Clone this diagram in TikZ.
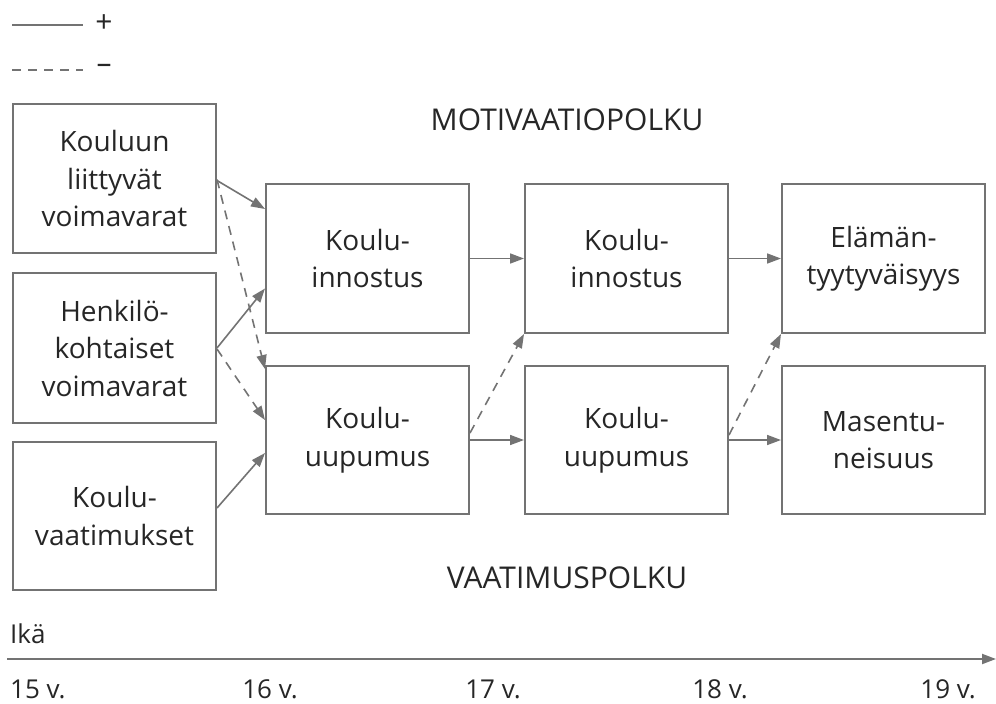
\documentclass[tikz,border=0pt]{standalone}
\usepackage{fontspec}
\setmainfont{Open Sans}
\usetikzlibrary{arrows.meta,calc}
\definecolor{linegray}{gray}{0.45}
\definecolor{textgray}{gray}{0.15}
\begin{document}
\begin{tikzpicture}[x=1pt,y=-1pt,
  box/.style={draw=linegray,line width=2pt,minimum width=203pt,inner sep=0pt,align=center,
    text=textgray,font=\fontsize{28}{37.5}\selectfont},
  conn/.style={draw=linegray,line width=1.6pt,-{Triangle[length=14pt,width=10pt]}},
  neg/.style={conn,dash pattern=on 9pt off 7pt},
  lbl/.style={text=textgray,font=\fontsize{30}{32}\selectfont,inner sep=0pt},
  age/.style={text=textgray,font=\fontsize{26}{30}\selectfont,inner sep=0pt,anchor=base}]
\useasboundingbox (0,0) rectangle (996,704);
% boxes
\node[box,minimum height=149pt] (a1) at (114.5,178.5) {Kouluun\\liittyvät\\voimavarat};
\node[box,minimum height=150pt] (a2) at (114.5,348) {Henkilö-\\kohtaiset\\voimavarat};
\node[box,minimum height=148pt] (a3) at (114.5,516) {Koulu-\\vaatimukset};
\node[box,minimum height=149pt] (b1) at (367.5,258.5) {Koulu-\\innostus};
\node[box,minimum height=148pt] (b2) at (367.5,440) {Koulu-\\uupumus};
\node[box,minimum height=149pt] (c1) at (626.5,258.5) {Koulu-\\innostus};
\node[box,minimum height=148pt] (c2) at (626.5,440) {Koulu-\\uupumus};
\node[box,minimum height=149pt] (d1) at (883.5,258.5) {Elämän-\\tyytyväisyys};
\node[box,minimum height=148pt] (d2) at (883.5,440) {Masentu-\\neisuus};
% path labels
\node[lbl] (mot) at (567,120) {MOTIVAATIOPOLKU};
\node[lbl] (vaa) at (567,578) {VAATIMUSPOLKU};
% connectors
\draw[conn] ([yshift=-2pt]a1.east) -- ([yshift=-26pt]b1.north west);
\draw[neg] ([yshift=-1pt]a1.east) -- ([yshift=-4pt]b2.north west);
\draw[conn] (a2.east) -- ([yshift=-30pt]b1.west);
\draw[neg] ([yshift=-1pt]a2.east) -- ([yshift=20pt]b2.west);
\draw[conn] ([yshift=8pt]a3.east) -- ([yshift=-13pt]b2.west);
\draw[conn] (b1.east) -- (c1.west);
\draw[neg] ([yshift=7pt]b2.east) -- (c1.south west);
\draw[conn] (b2.east) -- (c2.west);
\draw[conn] (c1.east) -- (d1.west);
\draw[neg] ([yshift=5pt]c2.east) -- (d1.south west);
\draw[conn] (c2.east) -- (d2.west);
% legend
\coordinate (l1a) at (12,25); \coordinate (l1b) at (83,25);
\coordinate (l2a) at (12,70); \coordinate (l2b) at (83,70);
\draw[linegray,line width=1.6pt] (l1a) -- (l1b);
\draw[linegray,line width=1.6pt,dash pattern=on 9pt off 7pt] (l2a) -- (l2b);
\node[lbl] (plus) at (104,24) {+};
\node[lbl] (minus) at (104,69) {–};
% axis
\node[age,anchor=base west] (ika) at (10,643) {Ikä};
\coordinate (ax0) at (7,659); \coordinate (ax1) at (996,659);
\draw[linegray,line width=2pt,-{Triangle[length=14pt,width=10pt]}] (ax0) -- (ax1);
\node[age,anchor=base west] (t15) at (10,698) {15 v.};
\node[age] (t16) at (270,698) {16 v.};
\node[age] (t17) at (493,698) {17 v.};
\node[age] (t18) at (720,698) {18 v.};
\node[age,anchor=base east] (t19) at (976,698) {19 v.};
\end{tikzpicture}
\end{document}
